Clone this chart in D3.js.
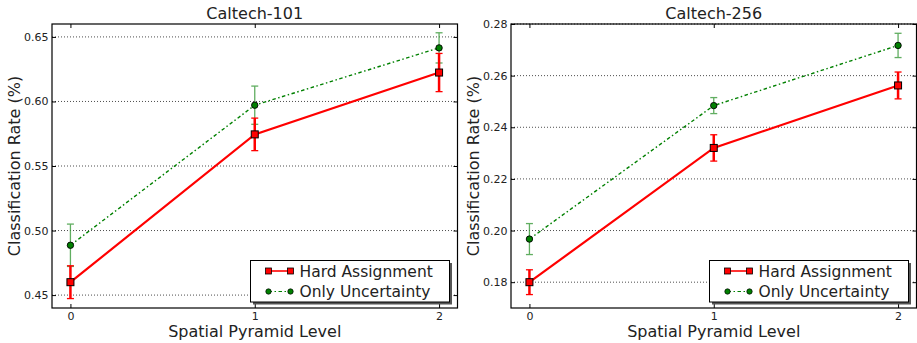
<!DOCTYPE html>
<html><head><meta charset="utf-8">
<script src="https://cdn.jsdelivr.net/npm/d3@7"></script>
<style>body{margin:0;background:#fff}svg{display:block}text{font-family:"DejaVu Sans",sans-serif}</style>
</head><body><svg id="c" width="917" height="343"></svg>
<script>
const levels = [0, 1, 2];
const titles = ["Caltech-101", "Caltech-256"];
const seriesNames = ["Hard Assignment", "Only Uncertainty"];
const hard101 = [0.460, 0.5745, 0.6224];
const hard101Err = [0.0127, 0.0126, 0.0148];
const unc101 = [0.4886, 0.5971, 0.6415];
const unc101Err = [0.0164, 0.0148, 0.0117];
const hard256 = [0.1800, 0.2320, 0.2562];
const hard256Err = [0.0048, 0.0051, 0.0052];
const unc256 = [0.1967, 0.2484, 0.2717];
const unc256Err = [0.0060, 0.0031, 0.0047];
const yTicks101 = [0.45, 0.50, 0.55, 0.60, 0.65];
const yTicks256 = [0.18, 0.20, 0.22, 0.24, 0.26, 0.28];
const yDomain101 = [0.44, 0.66];
const yDomain256 = [0.17, 0.28];

const svg = d3.select("#c");
const panels = [
  {title: titles[0], left: 52, right: 457.5, yd: yDomain101, ticks: yTicks101, fmt: d3.format(".2f"),
   hard: hard101, hardErr: hard101Err, unc: unc101, uncErr: unc101Err},
  {title: titles[1], left: 511, right: 916.5, yd: yDomain256, ticks: yTicks256, fmt: d3.format(".2f"),
   hard: hard256, hardErr: hard256Err, unc: unc256, uncErr: unc256Err}
];
const plotTop = 24, plotBottom = 308;

panels.forEach(p => {
  const g = svg.append("g");
  const x = d3.scaleLinear().domain([-0.1, 2.1]).range([p.left, p.right]);
  const y = d3.scaleLinear().domain(p.yd).range([plotBottom, plotTop]);
  // grid
  g.selectAll(".grid").data(p.ticks).enter().append("line")
    .attr("x1", p.left).attr("x2", p.right)
    .attr("y1", d => y(d)).attr("y2", d => y(d))
    .attr("stroke", "#000").attr("stroke-width", 0.7).attr("stroke-dasharray", "1,2");
  // y axis
  const ya = g.append("g").attr("transform", `translate(${p.left},0)`)
    .call(d3.axisLeft(y).tickValues(p.ticks).tickFormat(p.fmt).tickSizeInner(-4).tickSizeOuter(0).tickPadding(3.5));
  ya.select(".domain").remove();
  ya.selectAll("text").attr("font-size", 11).attr("fill", "#222");
  const ya2 = g.append("g").attr("transform", `translate(${p.right},0)`)
    .call(d3.axisRight(y).tickValues(p.ticks).tickSizeInner(-4).tickSizeOuter(0).tickFormat(""));
  ya2.select(".domain").remove();
  // x axis
  const xa = g.append("g").attr("transform", `translate(0,${plotBottom})`)
    .call(d3.axisBottom(x).tickValues(levels).tickFormat(d3.format("d")).tickSizeInner(-4).tickSizeOuter(0).tickPadding(4));
  xa.select(".domain").remove();
  xa.selectAll("text").attr("font-size", 11).attr("fill", "#222");
  const xa2 = g.append("g").attr("transform", `translate(0,${plotTop})`)
    .call(d3.axisTop(x).tickValues(levels).tickSizeInner(-4).tickSizeOuter(0).tickFormat(""));
  xa2.select(".domain").remove();

  // error bars
  function errbars(vals, errs, color, w, op) {
    const eg = g.append("g").attr("stroke", color).attr("stroke-width", w).attr("opacity", op);
    levels.forEach((l, i) => {
      const cx = x(l), y1 = y(vals[i] + errs[i]), y2 = y(vals[i] - errs[i]);
      eg.append("line").attr("x1", cx).attr("x2", cx).attr("y1", y1).attr("y2", y2);
      eg.append("line").attr("x1", cx - 3.5).attr("x2", cx + 3.5).attr("y1", y1).attr("y2", y1).attr("stroke-width", 1.3);
      eg.append("line").attr("x1", cx - 3.5).attr("x2", cx + 3.5).attr("y1", y2).attr("y2", y2).attr("stroke-width", 1.3);
    });
  }
  errbars(p.unc, p.uncErr, "#3a9a3a", 1.3, 0.8);
  errbars(p.hard, p.hardErr, "#ff0000", 2.5, 1);

  const line = d3.line().x((d, i) => x(levels[i])).y(d => y(d));
  g.append("path").datum(p.unc).attr("d", line).attr("fill", "none")
    .attr("stroke", "#008000").attr("stroke-width", 1.4).attr("stroke-dasharray", "3.5,2.5,1.5,2.5");
  g.append("path").datum(p.hard).attr("d", line).attr("fill", "none")
    .attr("stroke", "#ff0000").attr("stroke-width", 2.2);

  g.selectAll(".hm").data(p.hard).enter().append("rect")
    .attr("x", (d, i) => x(levels[i]) - 3.5).attr("y", d => y(d) - 3.5)
    .attr("width", 7).attr("height", 7).attr("fill", "#ff0000").attr("stroke", "#000").attr("stroke-width", 1);
  g.selectAll(".um").data(p.unc).enter().append("circle")
    .attr("cx", (d, i) => x(levels[i])).attr("cy", d => y(d)).attr("r", 3.2)
    .attr("fill", "#008000").attr("stroke", "#000").attr("stroke-width", 0.9);

  // frame
  g.append("rect").attr("x", p.left).attr("y", plotTop).attr("width", p.right - p.left).attr("height", plotBottom - plotTop)
    .attr("fill", "none").attr("stroke", "#000").attr("stroke-width", 1.2);

  // title
  g.append("text").attr("x", (p.left + p.right) / 2).attr("y", 18.5).attr("text-anchor", "middle")
    .attr("font-size", 16).attr("fill", "#222").text(p.title);
  g.append("text").attr("x", (p.left + p.right) / 2).attr("y", 337).attr("text-anchor", "middle")
    .attr("font-size", 16).attr("fill", "#222").text("Spatial Pyramid Level");
  g.append("text").attr("transform", `translate(${p.left - 32.5},${(plotTop + plotBottom) / 2}) rotate(-90)`)
    .attr("text-anchor", "middle").attr("font-size", 16).attr("fill", "#222").text("Classification Rate (%)");

  // legend
  const lx = p.right - 207, ly = 260.5, lw = 199, lh = 41.5;
  const lg = g.append("g");
  lg.append("rect").attr("x", lx + 2.5).attr("y", ly + 2.5).attr("width", lw).attr("height", lh).attr("fill", "#555");
  lg.append("rect").attr("x", lx).attr("y", ly).attr("width", lw).attr("height", lh).attr("fill", "#fff")
    .attr("stroke", "#000").attr("stroke-width", 1);
  const r1 = ly + 10.5, r2 = ly + 31;
  lg.append("line").attr("x1", lx + 18).attr("x2", lx + 40).attr("y1", r1).attr("y2", r1).attr("stroke", "#ff0000").attr("stroke-width", 1.6);
  [lx + 18, lx + 40].forEach(cx => lg.append("rect").attr("x", cx - 3).attr("y", r1 - 3).attr("width", 6).attr("height", 6)
    .attr("fill", "#ff0000").attr("stroke", "#000").attr("stroke-width", 0.8));
  lg.append("line").attr("x1", lx + 18).attr("x2", lx + 40).attr("y1", r2).attr("y2", r2).attr("stroke", "#008000").attr("stroke-width", 1.2).attr("stroke-dasharray", "3.5,2.5,1.5,2.5");
  [lx + 18, lx + 40].forEach(cx => lg.append("circle").attr("cx", cx).attr("cy", r2).attr("r", 2.7)
    .attr("fill", "#008000").attr("stroke", "#000").attr("stroke-width", 0.7));
  lg.append("text").attr("x", lx + 49).attr("y", r1 + 5.5).attr("font-size", 15.5).attr("fill", "#222").text(seriesNames[0]);
  lg.append("text").attr("x", lx + 49).attr("y", r2 + 5.5).attr("font-size", 15.5).attr("fill", "#222").text(seriesNames[1]);
});
</script></body></html>
